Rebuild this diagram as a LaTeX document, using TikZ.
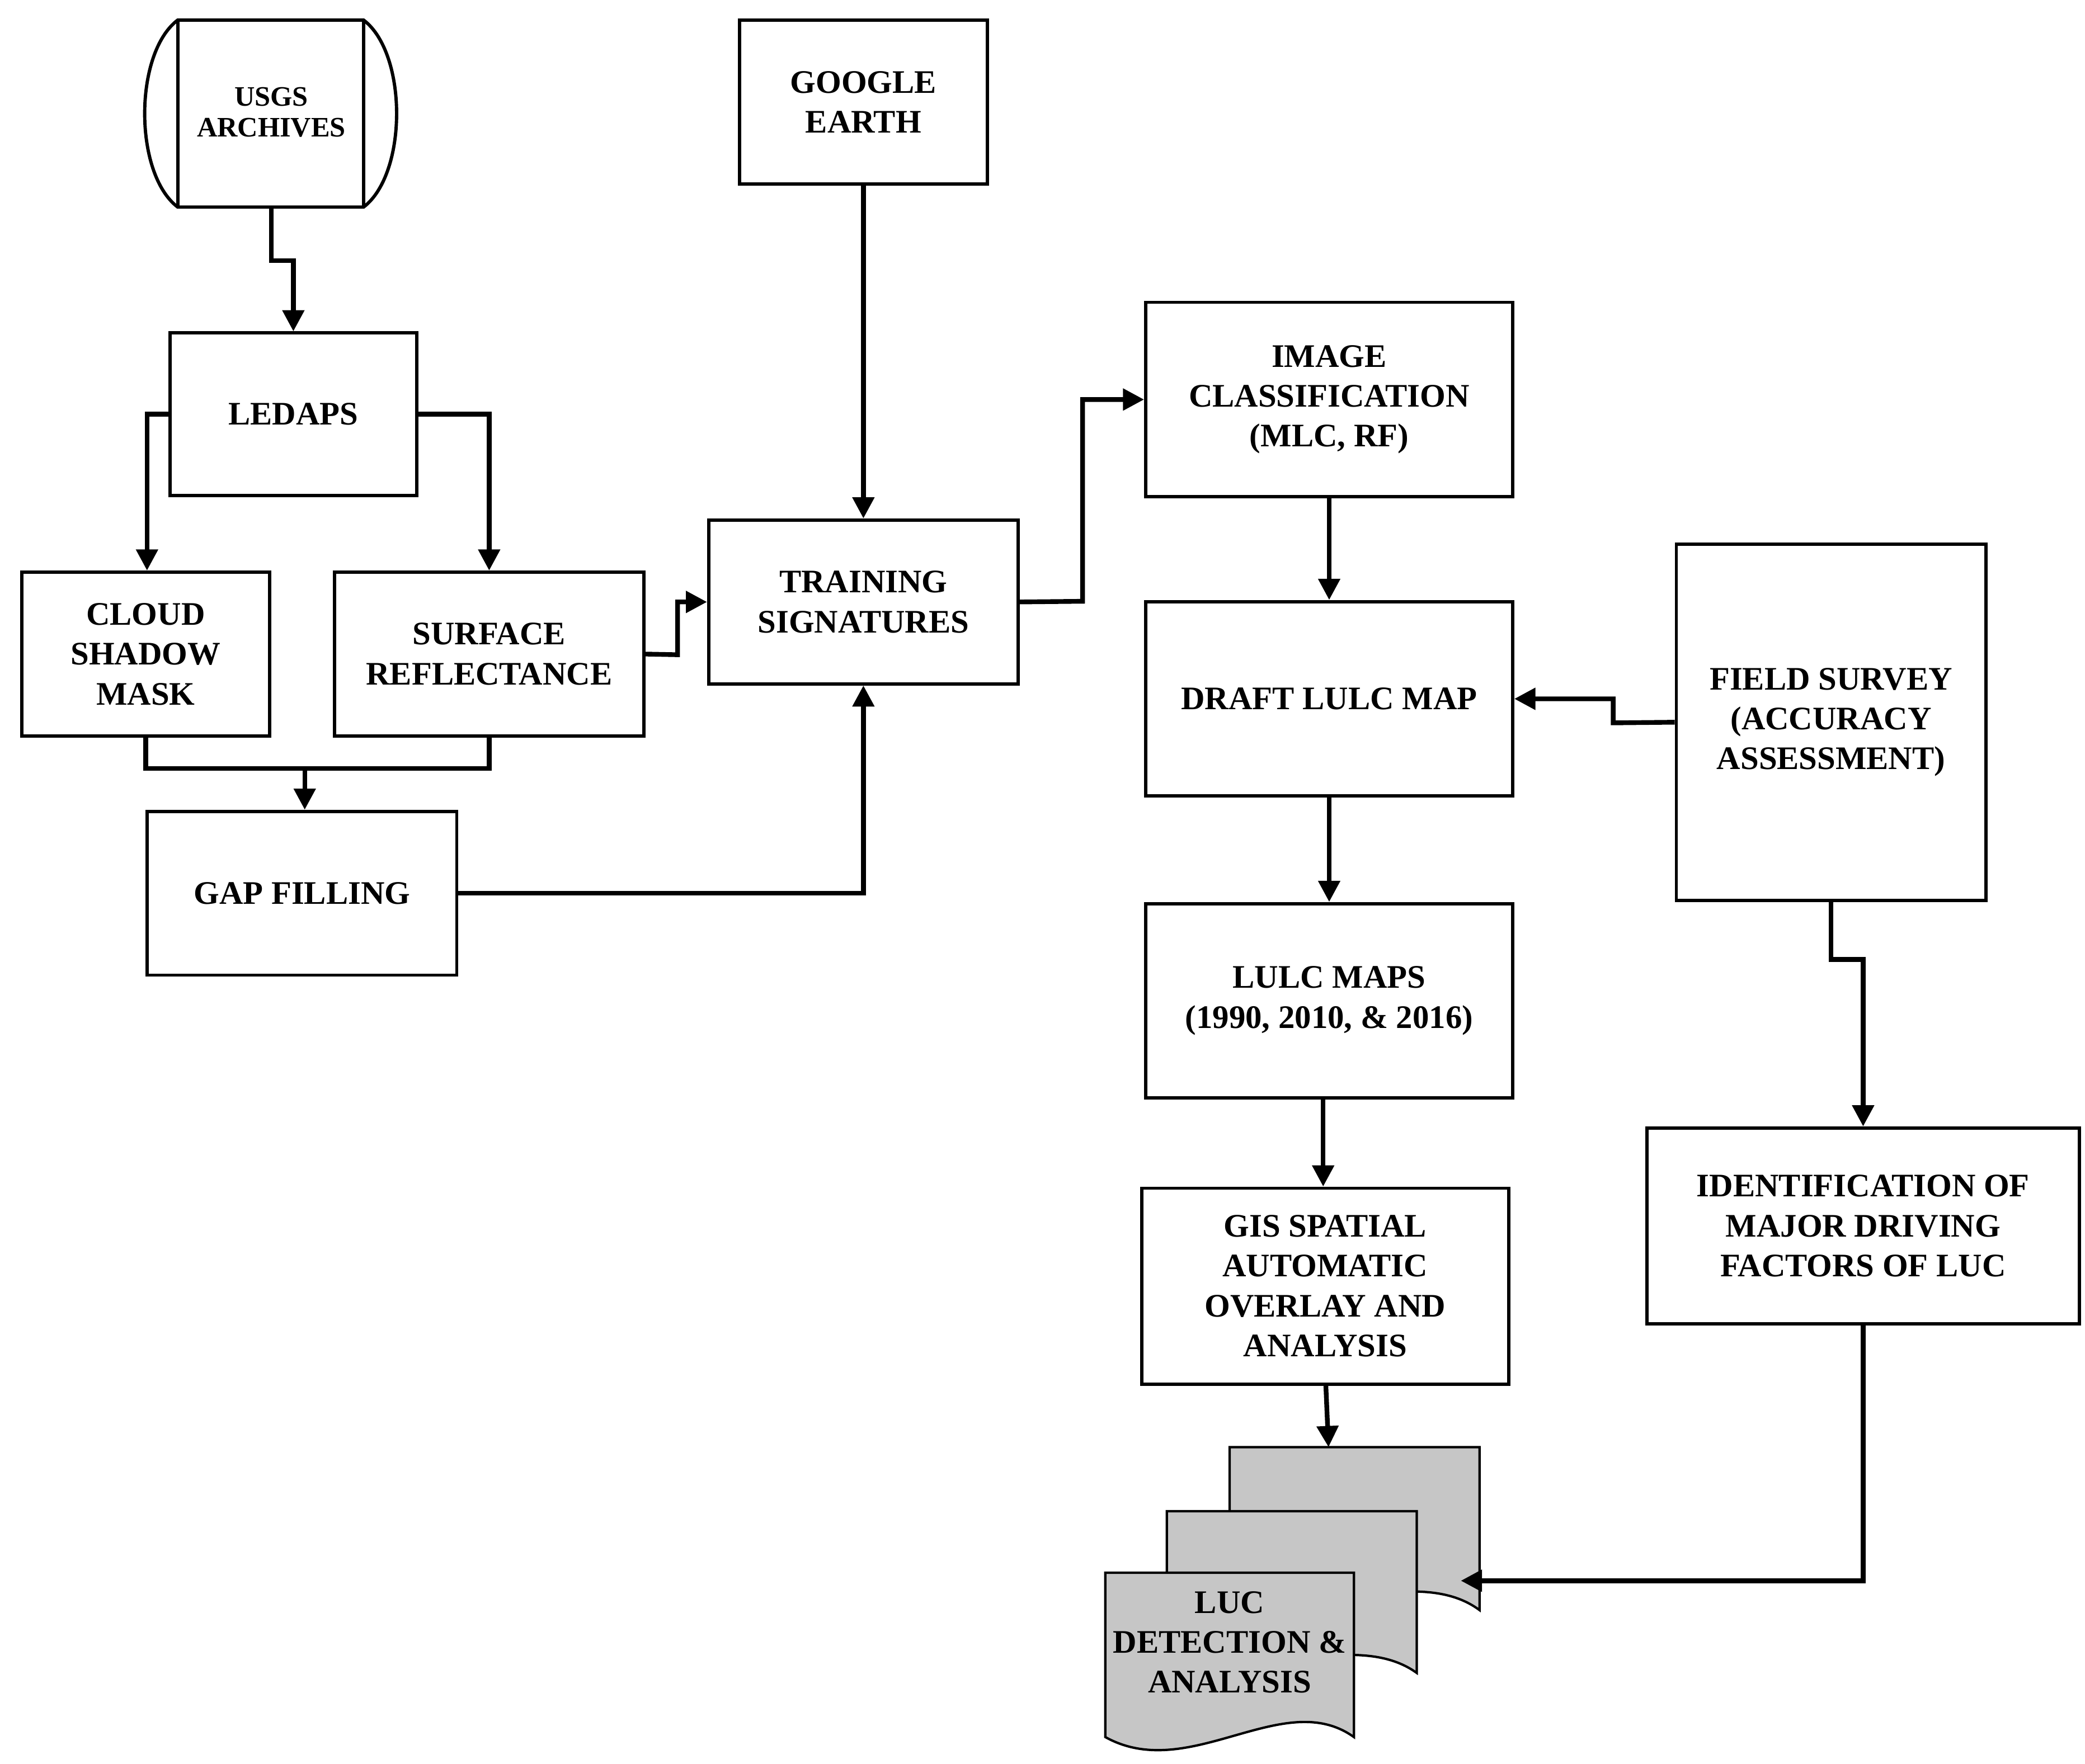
\documentclass[tikz,border=0pt]{standalone}
\usepackage{fontspec}
\setmainfont{Liberation Serif}
\usetikzlibrary{arrows.meta}
\begin{document}
\begin{tikzpicture}[x=0.2mm,y=-0.2mm,
 box/.style={draw,line width=1.4pt,fill=white,align=center,font=\fontsize{14}{17}\selectfont\bfseries},
 arr/.style={line width=2pt,-{Triangle[length=9pt,width=9pt]}},
 ln/.style={line width=2pt},
 doc/.style={draw,line width=1pt,fill=gray!45}]
\useasboundingbox (0,0) rectangle (1560,1320);
\newcommand{\bx}[6]{\node[box,minimum width=#4*0.2mm-1.4pt,minimum height=#5*0.2mm-1.4pt] (#1) at (#2,#3) {#6};}
% USGS archives
\draw[line width=1.4pt,fill=white] (133,15) -- (272,15) .. controls (305,40) and (305,130) .. (272,155) -- (133,155) .. controls (100,130) and (100,40) .. (133,15) -- cycle;
\draw[line width=1.4pt] (133,15) -- (133,155) (272,15) -- (272,155);
\node[font=\fontsize{12}{13}\selectfont\bfseries,align=center] (usgs) at (203,84) {USGS\\ARCHIVES};
\coordinate (usgsb) at (203,155);
\bx{ledaps}{219.5}{310}{187}{124}{LEDAPS}
\bx{cloud}{109}{489.5}{188}{125}{CLOUD\\SHADOW\\MASK}
\bx{surf}{366}{489.5}{234}{125}{SURFACE\\REFLECTANCE}
\bx{gap}{226}{668.5}{234}{125}{GAP FILLING}
\bx{google}{646}{76.5}{188}{125}{GOOGLE\\EARTH}
\bx{train}{646}{450.5}{234}{125}{TRAINING\\SIGNATURES}
\bx{img}{994.5}{299}{277}{148}{IMAGE\\CLASSIFICATION\\(MLC, RF)}
\bx{draft}{994.5}{523}{277}{148}{DRAFT LULC MAP}
\bx{lulc}{994.5}{749}{277}{148}{LULC MAPS\\(1990, 2010, \& 2016)}
\bx{gis}{991.5}{962.5}{277}{149}{GIS SPATIAL\\AUTOMATIC\\OVERLAY AND\\ANALYSIS}
\bx{field}{1370}{540.5}{234}{269}{FIELD SURVEY\\(ACCURACY\\ASSESSMENT)}
\bx{ident}{1394}{917.5}{326}{149}{IDENTIFICATION OF\\MAJOR DRIVING\\FACTORS OF LUC}
% documents
\draw[doc] (920,1083) -- (1107,1083) -- (1107,1205) .. controls (1060,1170) and (980,1215) .. (920,1190) -- cycle;
\draw[doc] (873,1131) -- (1060,1131) -- (1060,1252) .. controls (1013,1218) and (933,1262) .. (873,1238) -- cycle;
\draw[doc] (827,1177) -- (1013,1177) -- (1013,1300) .. controls (960,1262) and (890,1335) .. (827,1300) -- cycle;
\node[font=\fontsize{14}{17}\selectfont\bfseries,align=center] (luc) at (920,1229) {LUC\\DETECTION \&\\ANALYSIS};
\coordinate (doctop) at (994,1083);
\coordinate (docr) at (1093,1183);
% connectors
\draw[arr] (usgsb) -- (203,195) -| (ledaps.north);
\draw[arr] (ledaps.west) -- (110,310) -- (cloud.north -| 110,0);
\draw[arr] (ledaps.east) -| (surf.north);
\draw[ln] (cloud.south) |- (366,575) -- (surf.south);
\draw[arr] (228,575) -- (gap.north -| 228,0);
\draw[arr] (surf.east) -- (507,490) |- (train.west);
\draw[arr] (google.south) -- (train.north);
\draw[arr] (gap.east) -| (train.south);
\draw[arr] (train.east) -- (810,450) |- (img.west);
\draw[arr] (img.south) -- (draft.north);
\draw[arr] (field.west) -- (1207,541) |- (draft.east);
\draw[arr] (draft.south) -- (lulc.north);
\draw[arr] (990,823) -- (990,888);
\draw[arr] (992,1037) -- (doctop);
\draw[arr] (field.south) -- (1370,718) -| (ident.north);
\draw[arr] (ident.south) |- (docr);
\end{tikzpicture}
\end{document}
